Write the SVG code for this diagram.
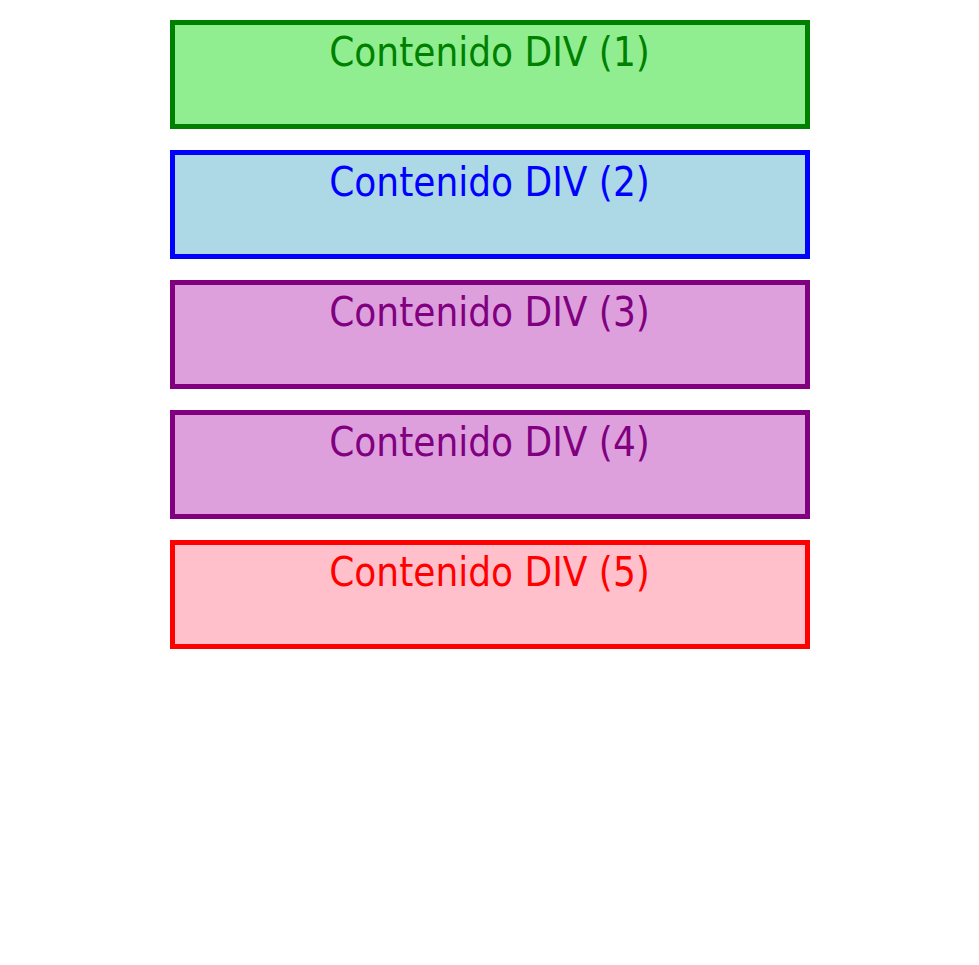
<svg xmlns="http://www.w3.org/2000/svg" width="979" height="965" viewBox="0 0 979 965">
<style>
  .box { stroke-width: 5; }
  .lbl { font-family: "DejaVu Sans Condensed", "DejaVu Sans", Verdana, sans-serif; font-size: 40px; text-anchor: middle; }
  .g1 rect { fill: #90EE90; stroke: #008000; } .g1 text { fill: #008000; }
  .g2 rect { fill: #ADD8E6; stroke: #0000FF; } .g2 text { fill: #0000FF; }
  .g3 rect { fill: #DDA0DD; stroke: #800080; } .g3 text { fill: #800080; }
  .g5 rect { fill: #FFC0CB; stroke: #FF0000; } .g5 text { fill: #FF0000; }
</style>
<rect width="979" height="965" fill="#ffffff"/>
<g id="div1" class="g1">
  <rect class="box" x="172.5" y="22.5" width="635" height="104"/>
  <text class="lbl" x="489.5" y="65.5">Contenido DIV (1)</text>
</g>
<g id="div2" class="g2">
  <rect class="box" x="172.5" y="152.5" width="635" height="104"/>
  <text class="lbl" x="489.5" y="195.5">Contenido DIV (2)</text>
</g>
<g id="div3" class="g3">
  <rect class="box" x="172.5" y="282.5" width="635" height="104"/>
  <text class="lbl" x="489.5" y="325.5">Contenido DIV (3)</text>
</g>
<g id="div4" class="g3">
  <rect class="box" x="172.5" y="412.5" width="635" height="104"/>
  <text class="lbl" x="489.5" y="455.5">Contenido DIV (4)</text>
</g>
<g id="div5" class="g5">
  <rect class="box" x="172.5" y="542.5" width="635" height="104"/>
  <text class="lbl" x="489.5" y="585.5">Contenido DIV (5)</text>
</g>
<g id="connectors"></g>
</svg>
